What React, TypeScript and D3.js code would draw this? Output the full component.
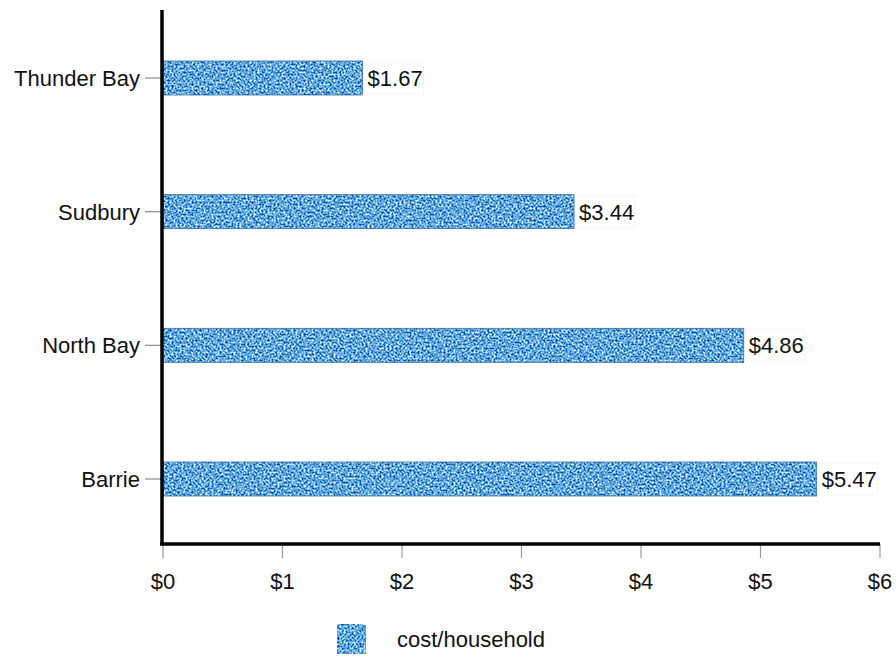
import React from "react";
import * as d3 from "d3";

const categories = ["Thunder Bay", "Sudbury", "North Bay", "Barrie"];
const values = [1.67, 3.44, 4.86, 5.47];
const valueLabels = ["$1.67", "$3.44", "$4.86", "$5.47"];
const xTicks = [0, 1, 2, 3, 4, 5, 6];
const legendLabel = "cost/household";

const W = 896;
const H = 656;
const FONT = "'Liberation Sans', Arial, Helvetica, sans-serif";

export default function App() {
  const x = d3.scaleLinear().domain([0, 6]).range([163, 880]);
  const y = d3.scalePoint<string>().domain(categories).range([78, 479]);
  const barH = 34;
  const axisY = 544;
  const axisX = 162;

  return (
    <svg
      width={W}
      height={H}
      viewBox={`0 0 ${W} ${H}`}
      style={{ position: "absolute", left: 0, top: 0, background: "#fff" }}
      fontFamily={FONT}
    >
      <defs>
        <filter id="speckle" x="0" y="0" width="100%" height="100%" colorInterpolationFilters="sRGB">
          <feTurbulence type="fractalNoise" baseFrequency="0.5" numOctaves="2" seed="7" result="noise" />
          <feColorMatrix
            in="noise"
            type="matrix"
            values="2.2 0 0 0 -0.72
                    1.6 0 0 0 -0.15
                    0.9 0 0 0 0.42
                    0 0 0 0 1"
            result="col"
          />
          <feComposite in="col" in2="SourceGraphic" operator="in" />
        </filter>
      </defs>

      {/* bars */}
      {categories.map((c, i) => {
        const cy = y(c)!;
        return (
          <g key={c}>
            <rect
              x={x(0)}
              y={cy - barH / 2}
              width={x(values[i]) - x(0)}
              height={barH}
              fill="#4f9be0"
              filter="url(#speckle)"
            />
            <rect
              x={x(0)}
              y={cy - barH / 2}
              width={x(values[i]) - x(0)}
              height={barH}
              fill="none"
              stroke="#3d6f9e"
              strokeWidth={0.8}
            />
            <rect
              x={x(values[i]) + 1}
              y={cy - barH / 2 + 1}
              width={60}
              height={barH - 2}
              fill="#fff"
              stroke="#e6e6e6"
              strokeDasharray="2 2"
              strokeWidth={0.8}
            />
            <text x={x(values[i]) + 5} y={cy} dy="0.36em" fontSize={22} fill="#111">
              {valueLabels[i]}
            </text>
            <line x1={145} x2={axisX} y1={cy} y2={cy} stroke="#8a8a8a" strokeWidth={1.2} />
            <text x={140} y={cy} dy="0.36em" fontSize={22} fill="#111" textAnchor="end">
              {c}
            </text>
          </g>
        );
      })}

      {/* x ticks */}
      {xTicks.map((t) => (
        <g key={t}>
          <line x1={x(t)} x2={x(t)} y1={axisY} y2={558} stroke="#9a9a9a" strokeWidth={1.2} />
          <text x={x(t)} y={589} fontSize={22} fill="#111" textAnchor="middle">
            {`$${t}`}
          </text>
        </g>
      ))}

      {/* axes */}
      <line x1={axisX} x2={axisX} y1={10} y2={axisY + 1.5} stroke="#000" strokeWidth={3.5} />
      <line x1={axisX - 1.75} x2={x(6)} y1={axisY} y2={axisY} stroke="#000" strokeWidth={3.5} />

      {/* legend */}
      <rect x={337} y={624} width={29} height={30} fill="#4f9be0" filter="url(#speckle)" />
      <text x={397} y={647} fontSize={22} fill="#111">
        {legendLabel}
      </text>
    </svg>
  );
}
